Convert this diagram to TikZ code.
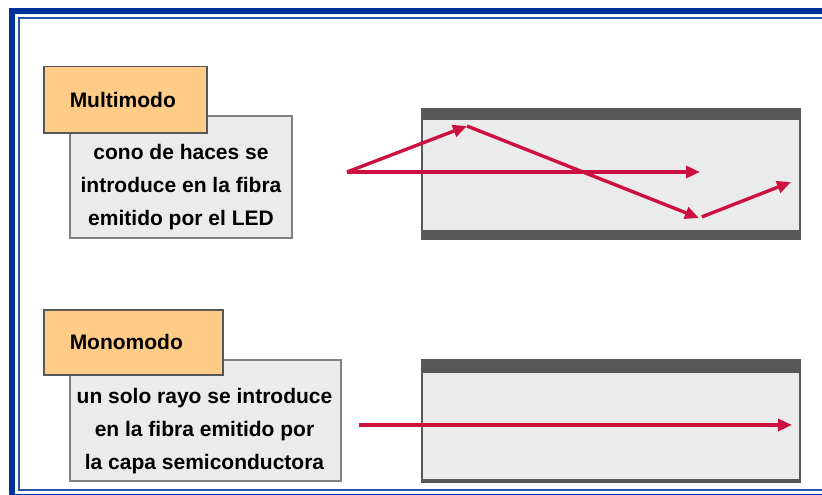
\documentclass[tikz,border=0pt]{standalone}
\usepackage{fontspec}
\setmainfont{Liberation Sans}
\usetikzlibrary{arrows.meta}

\definecolor{frameblue}{HTML}{003399}
\definecolor{rayred}{HTML}{CC1040}
\definecolor{tagorange}{HTML}{FFCC88}
\definecolor{boxgray}{HTML}{EBEBEB}
\definecolor{cladgray}{HTML}{575757}

\tikzset{
    tag/.style={draw=cladgray, line width=1.5pt, fill=tagorange, inner xsep=26pt, inner ysep=0pt, align=left, anchor=north west, font=\bfseries\fontsize{21}{33}\selectfont},
    descbox/.style={draw=gray, line width=1.5pt, fill=boxgray, inner sep=0pt, anchor=north west},
    desctext/.style={align=center, inner sep=0pt, font=\bfseries\fontsize{21}{33}\selectfont},
    fibre/.style={draw=cladgray, line width=2pt, fill=boxgray, inner sep=0pt, anchor=north west},
    ray/.style={rayred, line width=3.4pt, -{Triangle[length=14pt,width=12pt]}}
}

\begin{document}
\begin{tikzpicture}[x=1pt, y=-1pt]
    \useasboundingbox[fill=white] (0,0) rectangle (822,495);

    % Draw frame
    \draw[frameblue, line width=6pt] (12,11) rectangle (830,497);
    \draw[frameblue!85, line width=2pt] (18.7,17.8) rectangle (830,490);

    % Draw multimode description
    \node[descbox, minimum width=222pt, minimum height=122pt] (multibox) at (69,115) {};
    \node[desctext] (multitext) at (181,187) {cono de haces se\\introduce en la fibra\\emitido por el LED};
    \node[tag, minimum width=163pt, minimum height=66pt, text width=111pt] (multitag) at (43,66) {Multimodo};

    % Draw monomode description
    \node[descbox, minimum width=271pt, minimum height=121pt] (monobox) at (69,359) {};
    \node[desctext] (monotext) at (204.5,431) {un solo rayo se introduce\\en la fibra emitido por\\la capa semiconductora};
    \node[tag, minimum width=179pt, minimum height=65pt, text width=127pt] (monotag) at (43,309) {Monomodo};

    % Draw fibres
    \node[fibre, minimum width=378pt, minimum height=130pt] (multifibre) at (421,108) {};
    \fill[cladgray] (multifibre.north west) rectangle ([yshift=-12pt]multifibre.north east);
    \fill[cladgray] (multifibre.south west) rectangle ([yshift=10pt]multifibre.south east);

    \node[fibre, minimum width=378pt, minimum height=122pt] (monofibre) at (421,359) {};
    \fill[cladgray] (monofibre.north west) rectangle ([yshift=-14pt]monofibre.north east);
    \fill[cladgray] (monofibre.south west) rectangle ([yshift=4pt]monofibre.south east);

    % Draw rays
    \coordinate (multisrc) at (347,172);
    \coordinate (multiaxis) at (700,172);
    \coordinate (bounce1) at (467,126);
    \coordinate (bounce2) at (699,218);
    \coordinate (multiend) at (791,182);
    \draw[ray] (multisrc) -- (multiaxis);
    \draw[ray] (multisrc) -- (bounce1);
    \draw[ray] (bounce1) -- (bounce2);
    \draw[ray, shorten <=3pt] (bounce2) -- (multiend);

    \coordinate (monosrc) at (359,425);
    \coordinate (monoend) at (792,425);
    \draw[ray] (monosrc) -- (monoend);
\end{tikzpicture}
\end{document}
